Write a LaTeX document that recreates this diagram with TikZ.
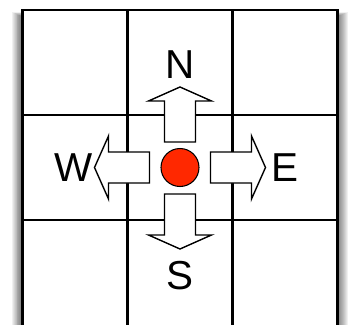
\documentclass[tikz,border=0pt]{standalone}
\usepackage{fontspec}
\setmainfont{Liberation Sans}
\usetikzlibrary{positioning}
\definecolor{dotred}{RGB}{255,40,0}

\tikzset{
  gridline/.style={line width=1.2pt},
  moveshape/.style={draw, fill=white, line width=0.8pt, line join=miter},
  dirlabel/.style={font=\fontsize{23}{23}\selectfont, inner sep=0pt},
}
% block arrow pointing along the rotated x axis, starting at distance #2
\newcommand{\movearrow}[2]{%
  \begin{scope}[rotate=#1]
    \draw[moveshape] (#2,-0.31) -- (#2+0.82,-0.31) -- (#2+0.82,-0.63) -- (#2+1.1,0)
      -- (#2+0.82,0.63) -- (#2+0.82,0.31) -- (#2,0.31) -- cycle;
  \end{scope}}

\begin{document}
\begin{tikzpicture}
  \useasboundingbox (-3.6,-3.13) rectangle (3.52,3.35);
  \clip (-3.6,-3.13) rectangle (3.52,3.35);

  \foreach \d in {0.02,0.04,...,0.22}
    \fill[black, opacity=0.06] (-3.15-\d,-3.6) rectangle (3.15+\d,3.02+0.4*\d);
  \fill[white] (-3.15,-3.5) rectangle (3.15,3.15);

  \draw[gridline] (-3.15,-3.5) rectangle (3.15,3.15);
  \draw[gridline] (-1.05,-3.5) -- (-1.05,3.15);
  \draw[gridline] (1.05,-3.5) -- (1.05,3.15);
  \draw[gridline] (-3.15,1.05) -- (3.15,1.05);
  \draw[gridline] (-3.15,-1.05) -- (3.15,-1.05);

  \movearrow{90}{0.51}
  \movearrow{0}{0.61}
  \movearrow{-90}{0.53}
  \movearrow{180}{0.61}

  \node[circle, draw, fill=dotred, minimum size=0.76cm, inner sep=0pt, line width=0.6pt] (dot) at (0,0) {};

  \node[dirlabel] (lblN) at (0,2.06) {N};
  \node[dirlabel] (lblE) at (2.1,0) {E};
  \node[dirlabel] (lblS) at (0,-2.17) {S};
  \node[dirlabel] (lblW) at (-2.13,0) {W};
\end{tikzpicture}
\end{document}
